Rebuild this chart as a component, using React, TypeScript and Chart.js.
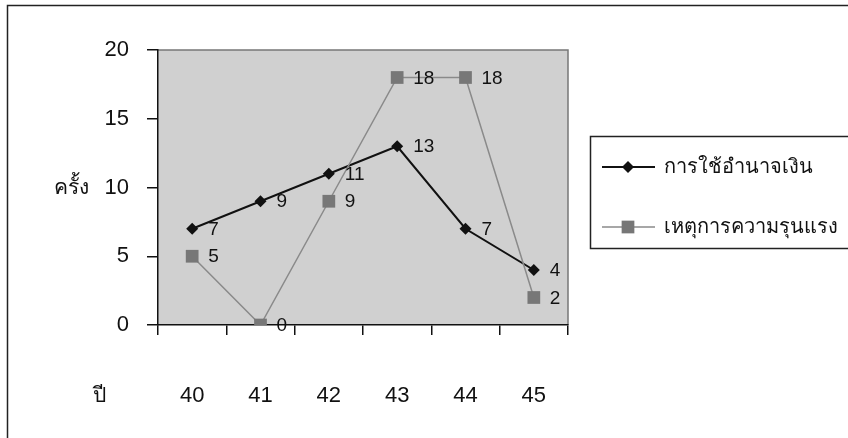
import React, { useEffect, useRef } from "react";
import { Chart, registerables } from "chart.js";

Chart.register(...registerables);

const years = ["40", "41", "42", "43", "44", "45"];
const moneyPower = [7, 9, 11, 13, 7, 4];
const violence = [5, 0, 9, 18, 18, 2];
const seriesNames = ["การใช้อำนาจเงิน", "เหตุการความรุนแรง"];
const yTitle = "ครั้ง";
const xTitle = "ปี";

const FONT = "Arial, 'Liberation Sans', 'Noto Sans', sans-serif";
const BLACK = "#111111";
const GRAY_LINE = "#8a8a8a";
const GRAY_MARK = "#777777";

const decorPlugin = {
  id: "decor",
  beforeDraw(chart: any) {
    const { ctx, chartArea: a } = chart;
    ctx.save();
    ctx.fillStyle = "#ffffff";
    ctx.fillRect(0, 0, chart.width, chart.height);
    ctx.fillStyle = "#d0d0d0";
    ctx.fillRect(a.left, a.top, a.right - a.left, a.bottom - a.top);
    ctx.strokeStyle = "#777777";
    ctx.lineWidth = 1.5;
    ctx.beginPath();
    ctx.moveTo(a.left, a.top);
    ctx.lineTo(a.right, a.top);
    ctx.lineTo(a.right, a.bottom);
    ctx.stroke();
    // outer frame
    ctx.strokeStyle = "#222222";
    ctx.lineWidth = 1.5;
    ctx.strokeRect(7.5, 5.5, 900, 500);
    ctx.restore();
  },
  afterDatasetsDraw(chart: any) {
    const { ctx } = chart;
    ctx.save();
    ctx.fillStyle = "#111111";
    ctx.font = `19px ${FONT}`;
    ctx.textAlign = "left";
    ctx.textBaseline = "middle";
    chart.data.datasets.forEach((ds: any, i: number) => {
      const meta = chart.getDatasetMeta(i);
      meta.data.forEach((pt: any, j: number) => {
        ctx.fillText(String(ds.data[j]), pt.x + 16, pt.y + 1);
      });
    });
    ctx.restore();
  },
  afterDraw(chart: any) {
    const { ctx } = chart;
    ctx.save();
    ctx.fillStyle = "#111111";
    ctx.textBaseline = "middle";
    ctx.textAlign = "left";
    ctx.font = `21px ${FONT}`;
    ctx.fillText(yTitle, 54, 188);
    ctx.fillText(xTitle, 93, 396);
    // legend
    ctx.strokeStyle = "#222222";
    ctx.lineWidth = 1.5;
    ctx.strokeRect(590.5, 136.5, 400, 112);
    const rows = [
      { y: 167, color: BLACK, lw: 2, style: "rectRot", r: 6, fill: BLACK },
      { y: 227, color: GRAY_LINE, lw: 1.5, style: "rect", r: 9, fill: GRAY_MARK },
    ];
    rows.forEach((row, i) => {
      ctx.strokeStyle = row.color;
      ctx.lineWidth = row.lw;
      ctx.beginPath();
      ctx.moveTo(602, row.y);
      ctx.lineTo(655, row.y);
      ctx.stroke();
      ctx.fillStyle = row.fill;
      ctx.beginPath();
      if (row.style === "rectRot") {
        ctx.moveTo(628 - row.r, row.y);
        ctx.lineTo(628, row.y - row.r);
        ctx.lineTo(628 + row.r, row.y);
        ctx.lineTo(628, row.y + row.r);
        ctx.closePath();
      } else {
        const s = row.r * Math.SQRT1_2;
        ctx.rect(628 - s, row.y - s, 2 * s, 2 * s);
      }
      ctx.fill();
      ctx.fillStyle = "#111111";
      ctx.font = `20px ${FONT}`;
      ctx.fillText(seriesNames[i], 664, row.y);
    });
    ctx.restore();
  },
};

export default function App() {
  const ref = useRef<HTMLCanvasElement | null>(null);
  useEffect(() => {
    if (!ref.current) return;
    const chart = new Chart(ref.current, {
      type: "line",
      data: {
        labels: years,
        datasets: [
          {
            label: seriesNames[1],
            data: violence,
            borderColor: GRAY_LINE,
            borderWidth: 1.5,
            pointStyle: "rect",
            pointRadius: 9,
            pointBackgroundColor: GRAY_MARK,
            pointBorderColor: GRAY_MARK,
            pointBorderWidth: 0,
            tension: 0,
          },
          {
            label: seriesNames[0],
            data: moneyPower,
            borderColor: BLACK,
            borderWidth: 2,
            pointStyle: "rectRot",
            pointRadius: 6,
            pointBackgroundColor: BLACK,
            pointBorderColor: BLACK,
            pointBorderWidth: 0,
            tension: 0,
          },
        ],
      },
      options: {
        responsive: false,
        animation: false,
        layout: { padding: { left: 0, top: 50, right: 280, bottom: 0 } },
        plugins: { legend: { display: false }, tooltip: { enabled: false } },
        scales: {
          x: {
            offset: true,
            grid: {
              offset: true,
              drawOnChartArea: false,
              drawTicks: true,
              tickLength: 10,
              color: "#111111",
              lineWidth: 1.5,
            },
            border: { display: true, color: "#111111", width: 1.5 },
            ticks: { color: "#111111", font: { family: FONT, size: 22 }, padding: 48, maxRotation: 0 },
            afterFit: (s: any) => {
              s.height = 113;
            },
          },
          y: {
            min: 0,
            max: 20,
            grid: {
              drawOnChartArea: false,
              drawTicks: true,
              tickLength: 11,
              color: "#111111",
              lineWidth: 1.5,
            },
            border: { display: true, color: "#111111", width: 1.5 },
            ticks: { stepSize: 5, color: "#111111", font: { family: FONT, size: 22 }, padding: 18 },
            afterFit: (s: any) => {
              s.width = 158;
            },
          },
        },
      },
      plugins: [decorPlugin],
    });
    return () => chart.destroy();
  }, []);
  return (
    <div style={{ position: "absolute", left: 0, top: 0, width: 848, height: 438 }}>
      <canvas ref={ref} width={848} height={438} />
    </div>
  );
}
